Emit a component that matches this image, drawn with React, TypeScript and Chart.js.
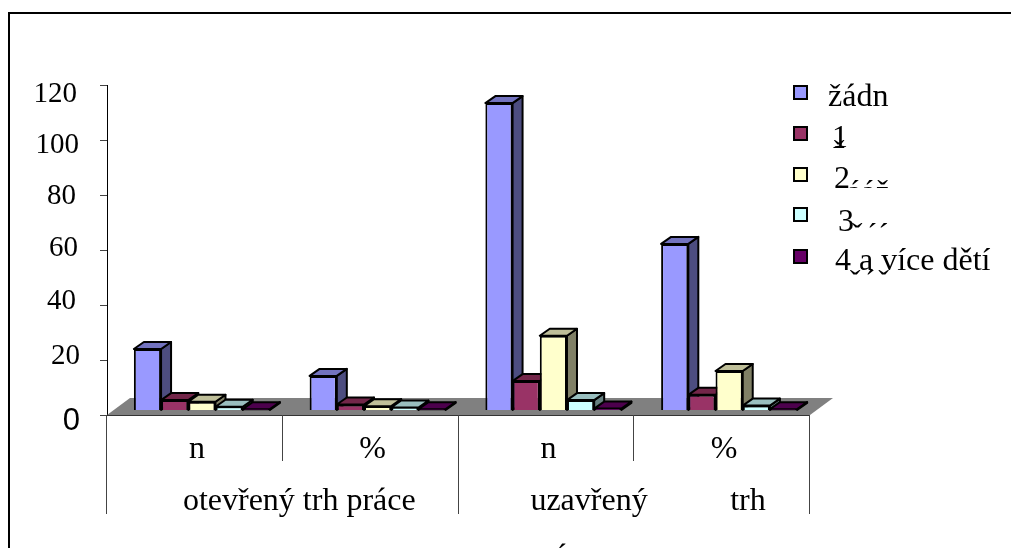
import React, { useEffect, useRef } from "react";
import { Chart, registerables } from "chart.js";

Chart.register(...registerables);

const categories = ["n", "%", "n", "%"];
const groupLabels = ["otevřený trh práce", "uzavřený", "trh"];
const seriesNames = ["žádn", "1", "2", "3", "4 a více dětí"];
const zadne = [22.2, 12.4, 111.6, 60.4];
const jedno = [3.6, 2, 10.5, 5.5];
const dve = [3, 1.4, 27, 14.2];
const tri = [1.2, 0.9, 3.6, 1.6];
const ctyri = [0.3, 0.3, 0.5, 0.3];
const seriesValues = [zadne, jedno, dve, tri, ctyri];
const frontColors = ["#9999FF", "#993366", "#FFFFCC", "#CCFFFF", "#660066"];
const topColors = ["#7373BF", "#732649", "#BFBF99", "#99BFBF", "#4D004D"];
const sideColors = ["#4D4D80", "#4D1A33", "#808066", "#668080", "#330033"];

const SERIF = '"Liberation Serif", "Times New Roman", serif';
const SANS = '"Liberation Sans", Arial, sans-serif';
const SIZE = 32;
const Y_SIZE = 29;
const ZERO_SIZE = 31;
const DX = 10;
const DY = 7;
const SHIFT = 7;

// per-tick nudges of the y labels, as in the reference [dx, dy]
const yNudge: Record<string, [number, number]> = {
  "0": [0, 6],
  "20": [0, -4],
  "40": [-4, -4],
  "60": [-2, -2],
  "80": [-4, 1],
  "100": [-1, 5],
  "120": [-3, 9],
};
const xNudge: [number, number] = [2, -2];

const scene = {
  id: "scene",
  beforeDraw(chart: any) {
    const { ctx, width, height } = chart;
    ctx.save();
    ctx.fillStyle = "#fff";
    ctx.fillRect(0, 0, width, height);
    ctx.strokeStyle = "#000";
    ctx.lineWidth = 2;
    ctx.beginPath();
    ctx.moveTo(9, height);
    ctx.lineTo(9, 13);
    ctx.lineTo(width, 13);
    ctx.stroke();
    ctx.restore();

    const nudge = (it: any, n?: [number, number]) => {
      if (n && !it.options._nudged) {
        it.options.translation = [it.options.translation[0] + n[0], it.options.translation[1] + n[1]];
        it.options._nudged = true;
      }
    };
    chart.scales.y.getLabelItems().forEach((it: any) => nudge(it, yNudge[String(it.label)]));
    chart.scales.x.getLabelItems().forEach((it: any) => nudge(it, xNudge));
  },
  beforeDatasetsDraw(chart: any) {
    const { ctx, chartArea: a } = chart;
    const y0 = chart.scales.y.getPixelForValue(0);
    ctx.save();
    ctx.fillStyle = "#808080";
    ctx.strokeStyle = "#333";
    ctx.lineWidth = 1;
    ctx.beginPath();
    ctx.moveTo(a.left, y0);
    ctx.lineTo(a.right, y0);
    ctx.lineTo(a.right + 23, y0 - 17);
    ctx.lineTo(a.left + 23, y0 - 17);
    ctx.closePath();
    ctx.fill();
    ctx.beginPath();
    ctx.moveTo(a.left, y0 + 0.5);
    ctx.lineTo(a.right, y0 + 0.5);
    ctx.stroke();
    ctx.restore();
  },
  // The library draws the leftmost series last; a 3-D view needs it first,
  // so each series is drawn from afterDatasetsDraw in left-to-right order.
  beforeDatasetDraw() {
    return false;
  },
  afterDatasetsDraw(chart: any) {
    const { ctx } = chart;
    ctx.save();
    ctx.translate(SHIFT, 0);
    seriesNames.forEach((_, i) => {
      const meta = chart.getDatasetMeta(i);
      meta.data.forEach((bar: any) => {
        const { x, y, base, width } = bar.getProps(["x", "y", "base", "width"]);
        const r = x + width / 2;
        const l = x - width / 2;
        ctx.save();
        ctx.strokeStyle = "#000";
        ctx.lineWidth = 2;
        ctx.lineJoin = "round";
        ctx.fillStyle = sideColors[i];
        ctx.beginPath();
        ctx.moveTo(r, y);
        ctx.lineTo(r + DX, y - DY);
        ctx.lineTo(r + DX, base - DY);
        ctx.lineTo(r, base);
        ctx.closePath();
        ctx.fill();
        ctx.stroke();
        ctx.fillStyle = topColors[i];
        ctx.beginPath();
        ctx.moveTo(l, y);
        ctx.lineTo(l + DX, y - DY);
        ctx.lineTo(r + DX, y - DY);
        ctx.lineTo(r, y);
        ctx.closePath();
        ctx.fill();
        ctx.stroke();
        ctx.restore();
      });
      meta.controller.draw();
    });
    ctx.restore();
  },
  afterDraw(chart: any) {
    const { ctx, chartArea: a, height } = chart;
    const xs = chart.scales.x;
    const y0 = chart.scales.y.getPixelForValue(0);
    const step = (a.right - a.left) / categories.length;
    ctx.save();
    ctx.strokeStyle = "#444";
    ctx.lineWidth = 1;
    [0, 1, 2, 3, 4].forEach((k) => {
      const px = Math.round(a.left + k * step) - 0.5;
      ctx.beginPath();
      ctx.moveTo(px, y0);
      ctx.lineTo(px, k % 2 === 0 ? 514 : 461);
      ctx.stroke();
    });
    ctx.fillStyle = "#000";
    ctx.font = `${SIZE}px ${SERIF}`;
    ctx.textBaseline = "alphabetic";
    ctx.textAlign = "left";
    ctx.fillText(groupLabels[0], xs.getPixelForValue(0) - 12, 510);
    ctx.fillText(groupLabels[1], xs.getPixelForValue(2) - 16, 510);
    ctx.fillText(groupLabels[2], xs.getPixelForValue(3) + 8, 510);

    const rows = [85, 126, 167, 207, 249];
    const textX = [828, 832, 834, 838, 835];
    const base = [106, 147, 188, 231, 270];
    seriesNames.forEach((name, i) => {
      ctx.fillStyle = frontColors[i];
      ctx.strokeStyle = "#000";
      ctx.lineWidth = 2;
      ctx.fillRect(794, rows[i] + 1, 13, 13);
      ctx.strokeRect(794, rows[i] + 1, 13, 13);
      ctx.fillStyle = "#000";
      ctx.fillText(name, textX[i], base[i]);
    });
    // clipped remains of the labels beneath the legend
    const remains: [string, number, number, number, number][] = [
      ["ž", 832, 162, 140, 8],
      ["ááž", 847, 202, 180, 8],
      ["žáí", 850, 245, 223, 7],
      ["žáž", 848, 292, 270, 6],
    ];
    remains.forEach(([t, x, b, top, h]) => {
      ctx.save();
      ctx.beginPath();
      ctx.rect(x - 2, top, 60, h);
      ctx.clip();
      ctx.fillText(t, x, b);
      ctx.restore();
    });
    ctx.textAlign = "center";
    ctx.fillText("Á", 561, height + 23);
    ctx.restore();
  },
};

export default function App() {
  const ref = useRef<HTMLCanvasElement>(null);
  useEffect(() => {
    const chart = new Chart(ref.current!, {
      type: "bar",
      data: {
        labels: categories,
        datasets: seriesNames.map((name, i) => ({
          label: name,
          data: seriesValues[i],
          backgroundColor: frontColors[i],
          borderColor: "#000",
          borderWidth: 2,
          barPercentage: 1,
          categoryPercentage: 0.774,
          yAxisID: "yBars",
          clip: false as any,
        })),
      },
      options: {
        animation: false,
        responsive: false,
        layout: { padding: { left: 0, top: 85, right: 201, bottom: 33 } },
        plugins: { legend: { display: false }, tooltip: { enabled: false }, title: { display: false } },
        scales: {
          x: {
            type: "category",
            position: "bottom",
            afterFit: (s: any) => { s.height = 100; },
            grid: { display: false },
            border: { display: false },
            ticks: { color: "#000", font: { family: SERIF, size: SIZE }, maxRotation: 0, padding: 9 },
          },
          y: {
            type: "linear",
            position: "left",
            min: 0,
            max: 120,
            afterFit: (s: any) => { s.width = 107; },
            border: { display: true, color: "#000", width: 1 },
            grid: { drawOnChartArea: false, drawTicks: true, tickLength: 7, color: "#444" },
            ticks: {
              stepSize: 20,
              color: "#000",
              padding: 20,
              font: (c: any) =>
                c.tick && c.tick.value === 0
                  ? { family: SANS, size: ZERO_SIZE }
                  : { family: SERIF, size: Y_SIZE },
            },
          },
          yBars: {
            type: "linear",
            display: false,
            min: -1.82,
            max: 118.18,
          },
        },
      },
      plugins: [scene],
    } as any);
    return () => chart.destroy();
  }, []);
  return (
    <canvas
      ref={ref}
      width={1011}
      height={548}
      style={{ position: "absolute", left: 0, top: 0, display: "block", width: 1011, height: 548 }}
    />
  );
}
